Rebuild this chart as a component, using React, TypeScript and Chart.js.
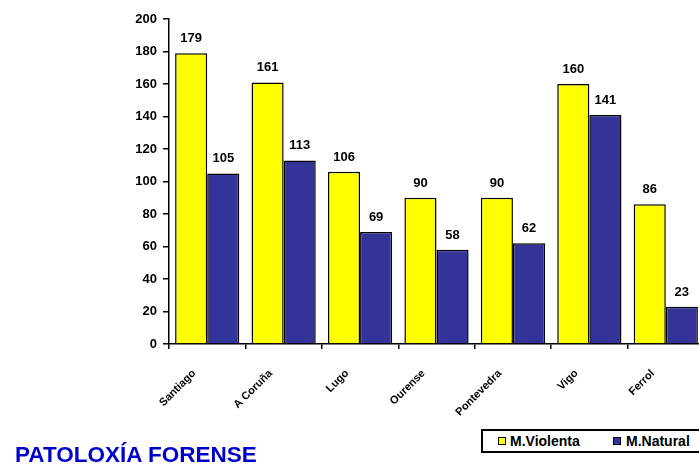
import React, { useEffect, useRef } from "react";
import { Chart, registerables } from "chart.js";

Chart.register(...registerables);

const categories = ["Santiago", "A Coruña", "Lugo", "Ourense", "Pontevedra", "Vigo", "Ferrol"];
const violentaLabel = "M.Violenta";
const naturalLabel = "M.Natural";
const violenta = [179, 161, 106, 90, 90, 160, 86];
const natural = [105, 113, 69, 58, 62, 141, 23];
const yMin = 0;
const yMax = 200;
const yStep = 20;
const titleText = "PATOLOXÍA FORENSE";

const YELLOW = "#FFFF00";
const BLUE = "#333399";
const FONT = "Arial, 'Liberation Sans', sans-serif";

const valueLabels = {
  id: "valueLabels",
  afterDatasetsDraw(chart: any) {
    const ctx = chart.ctx;
    ctx.save();
    ctx.font = `bold 13px ${FONT}`;
    ctx.fillStyle = "#000";
    ctx.textAlign = "center";
    ctx.textBaseline = "alphabetic";
    chart.data.datasets.forEach((ds: any, i: number) => {
      const meta = chart.getDatasetMeta(i);
      meta.data.forEach((bar: any, j: number) => {
        ctx.fillText(String(ds.data[j]), bar.x, bar.y - 11);
      });
    });
    ctx.restore();
  },
};

export default function App() {
  const ref = useRef<HTMLCanvasElement | null>(null);
  useEffect(() => {
    if (!ref.current) return;
    const chart = new Chart(ref.current, {
      type: "bar",
      data: {
        labels: categories,
        datasets: [
          {
            label: violentaLabel,
            data: violenta,
            backgroundColor: YELLOW,
            borderColor: "#000",
            borderWidth: 1.5,
            categoryPercentage: 0.84,
            barPercentage: 1,
          },
          {
            label: naturalLabel,
            data: natural,
            backgroundColor: BLUE,
            borderColor: "#000",
            borderWidth: 1.5,
            categoryPercentage: 0.84,
            barPercentage: 1,
          },
        ],
      },
      options: {
        animation: false,
        responsive: false,
        maintainAspectRatio: false,
        layout: { padding: { top: 19, left: 0, right: 0, bottom: 0 } },
        plugins: {
          legend: { display: false },
          tooltip: { enabled: false },
          title: { display: false },
        },
        scales: {
          x: {
            grid: {
              display: true,
              drawOnChartArea: false,
              drawTicks: true,
              tickLength: 5,
              color: "#000",
              lineWidth: 1.5,
              offset: true,
            },
            border: { display: true, color: "#000", width: 1.5 },
            ticks: {
              color: "#000",
              font: { family: FONT, size: 11, weight: "bold" },
              minRotation: 45,
              maxRotation: 45,
              padding: 18,
              labelOffset: -13,
            },
            afterFit(scale: any) {
              scale.height = 121;
            },
          },
          y: {
            min: yMin,
            max: yMax,
            grid: {
              display: true,
              drawOnChartArea: false,
              drawTicks: true,
              tickLength: 6,
              color: "#000",
              lineWidth: 1.5,
            },
            border: { display: true, color: "#000", width: 1.5 },
            ticks: {
              stepSize: yStep,
              color: "#000",
              font: { family: FONT, size: 13, weight: "bold" },
              padding: 6,
            },
            afterFit(scale: any) {
              scale.width = 169;
            },
          },
        },
      },
      plugins: [valueLabels],
    });
    return () => chart.destroy();
  }, []);

  return (
    <div
      style={{
        position: "fixed",
        left: 0,
        top: 0,
        width: 699,
        height: 465,
        overflow: "hidden",
        background: "#fff",
      }}
    >
      <canvas ref={ref} width={704} height={465} style={{ position: "absolute", left: 0, top: 0 }} />
      <div
        style={{
          position: "absolute",
          left: 481,
          top: 429,
          width: 240,
          height: 20,
          border: "2px solid #000",
          background: "#fff",
          fontFamily: FONT,
          fontWeight: "bold",
          fontSize: 14,
          lineHeight: "20px",
          whiteSpace: "nowrap",
        }}
      >
        <span style={{ position: "absolute", left: 15, top: 6, width: 6, height: 6, background: YELLOW, border: "1.5px solid #000" }} />
        <span style={{ position: "absolute", left: 27, top: 0 }}>{violentaLabel}</span>
        <span style={{ position: "absolute", left: 130, top: 6, width: 6, height: 6, background: BLUE, border: "1.5px solid #000" }} />
        <span style={{ position: "absolute", left: 143, top: 0 }}>{naturalLabel}</span>
      </div>
      <div
        style={{
          position: "absolute",
          left: 15,
          top: 444,
          fontFamily: FONT,
          fontWeight: "bold",
          fontSize: 22.5,
          lineHeight: "22.5px",
          color: "#0000CC",
          whiteSpace: "nowrap",
        }}
      >
        {titleText}
      </div>
    </div>
  );
}
